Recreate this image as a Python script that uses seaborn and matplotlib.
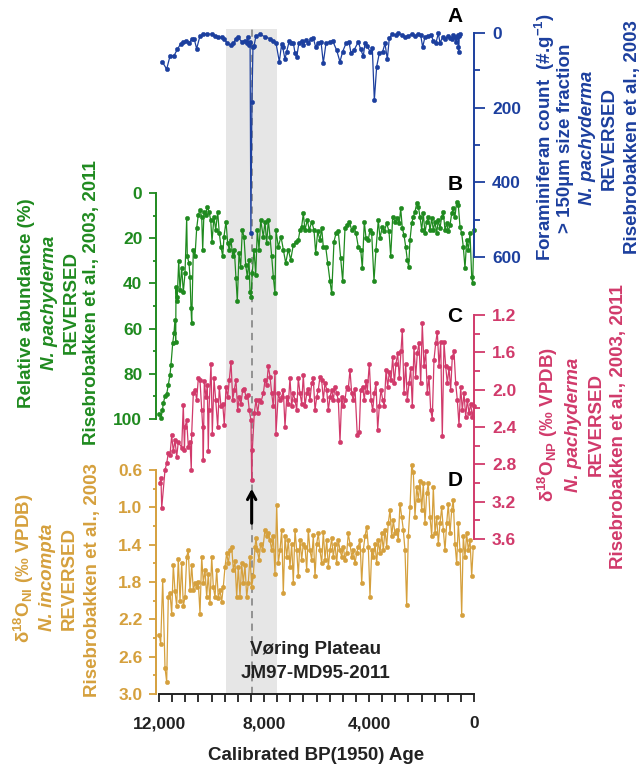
import matplotlib
matplotlib.use("Agg")
import matplotlib.pyplot as plt
from matplotlib.ticker import MultipleLocator, FixedLocator, StrMethodFormatter
import seaborn as sns

sns.set_style("white")
plt.rcParams['font.family'] = ['Liberation Sans', 'DejaVu Sans']
plt.rcParams['font.weight'] = 'bold'
plt.rcParams['mathtext.fontset'] = 'custom'
plt.rcParams['mathtext.rm'] = 'Liberation Sans'
plt.rcParams['mathtext.bf'] = 'Liberation Sans:bold'
plt.rcParams['mathtext.it'] = 'Liberation Sans:italic'

# ---------------- data ----------------
blue_age = [11875, 11708, 11582, 11430, 11303, 11176, 11075, 10973, 10846, 10757,
            10655, 10566, 10440, 10313, 10161, 9995, 9868, 9741, 9614, 9525,
            9398, 9271, 9170, 9068, 8979, 8852, 8725, 8661, 8623, 8572,
            8530, 8500, 8460, 8420, 8382, 8306, 8153, 7963, 7772, 7646,
            7544, 7417, 7328, 7290, 7201, 7137, 7036, 6972, 6884, 6820,
            6756, 6668, 6566, 6503, 6413, 6313, 6210, 6122, 6033, 5931,
            5829, 5741, 5639, 5486, 5385, 5233, 5106, 5004, 4877, 4763,
            4687, 4572, 4408, 4317, 4217, 4153, 4064, 3962, 3873, 3797,
            3708, 3606, 3480, 3391, 3302, 3226, 3112, 2985, 2884, 2756,
            2629, 2503, 2375, 2248, 2121, 2032, 1955, 1867, 1740, 1639,
            1550, 1448, 1359, 1295, 1194, 1105, 1003, 914, 851, 787,
            724, 686, 636, 610, 598, 583, 560, 533]
blue_val = [77, 97, 62, 61, 44, 29, 25, 21, 26, 17,
            17, 42, 8, 4, 3, 3, 7, 12, 12, 17,
            26, 33, 28, 15, 12, 23, 21, 28, 10, 32,
            23, 537, 184, 37, 35, 8, 4, 10, 15, 21,
            26, 77, 30, 37, 70, 50, 21, 28, 26, 53,
            65, 26, 22, 33, 19, 26, 17, 14, 37, 26,
            23, 80, 28, 23, 21, 46, 77, 50, 28, 24,
            53, 46, 24, 44, 62, 28, 35, 50, 41, 180,
            90, 54, 50, 28, 70, 14, 3, 6, 1, 5,
            10, 8, 3, 8, 3, 5, 38, 10, 8, 5,
            21, 26, 1, 26, 12, 17, 8, 14, 17, 5,
            10, 23, 12, 5, 37, 50, 8, 3]

green_age = [11981, 11924, 11867, 11836, 11771, 11707, 11646, 11581, 11543, 11478,
             11429, 11390, 11364, 11352, 11326, 11303, 11249, 11200, 11135, 11074,
             11009, 10945, 10922, 10857, 10819, 10781, 10754, 10693, 10629, 10564,
             10503, 10438, 10373, 10335, 10286, 10221, 10160, 10095, 10030, 9981,
             9905, 9840, 9764, 9703, 9638, 9573, 9524, 9448, 9383, 9322,
             9257, 9192, 9131, 9067, 9017, 8952, 8888, 8827, 8762, 8697,
             8636, 8571, 8533, 8495, 8446, 8381, 8316, 8255, 8190, 8126,
             8027, 7962, 7897, 7836, 7771, 7707, 7646, 7581, 7543, 7455,
             7352, 7265, 7173, 7074, 6983, 6884, 6781, 6693, 6629, 6564,
             6503, 6438, 6350, 6274, 6183, 6095, 6030, 5954, 5867, 5802,
             5741, 5650, 5573, 5486, 5421, 5333, 5257, 5169, 5078, 5002,
             4914, 4827, 4750, 4659, 4571, 4495, 4408, 4316, 4255, 4179,
             4114, 4027, 3962, 3897, 3810, 3733, 3646, 3581, 3493, 3417,
             3326, 3238, 3173, 3097, 3010, 2922, 2846, 2792, 2731, 2667,
             2602, 2541, 2488, 2438, 2373, 2312, 2248, 2183, 2122, 2057,
             1992, 1931, 1867, 1802, 1741, 1676, 1611, 1550, 1486, 1421,
             1360, 1295, 1230, 1170, 1105, 1040, 979, 914, 850, 789,
             724, 659, 598, 533, 469, 408, 343, 278, 217, 152,
             88, 50, 0]
green_val = [98, 99.5, 96, 93, 90, 89, 85, 80.5, 76, 66.5,
             62, 56, 66, 41.5, 48, 46, 30, 43, 33, 44,
             35.5, 11, 28, 31, 37, 51, 57.6, 25, 28, 15.6,
             9.7, 7.5, 10.5, 25, 8.3, 9.7, 6, 8.3, 12, 21.5,
             10.5, 16.4, 8.3, 17.8, 23.8, 28, 19.3, 12.7, 22.3, 25,
             20.8, 28, 25, 37.7, 48, 26.7, 32.6, 16.4, 19.3, 31.9,
             37, 29.6, 43.7, 45.9, 35.5, 25, 36.3, 16.4, 25, 12,
             19.3, 12.7, 22.3, 12, 19.3, 28, 37, 44.4, 16.4, 23.8,
             19.3, 25, 31, 25, 29.6, 23, 21.5, 20.8, 16.4, 14.9,
             9, 16.4, 12, 16.4, 12.7, 16.4, 26.7, 17, 20.8, 15.6,
             23.8, 23.8, 31, 39, 44.4, 21.5, 17.8, 17, 28.9, 39,
             15.6, 14.2, 12.7, 16.4, 14.9, 17.8, 23.8, 25, 33.3, 12.7,
             20, 20.8, 16.4, 17.8, 39, 25, 12, 20, 14.9, 17,
             13.4, 17, 28, 10.5, 12.7, 11.2, 13.4, 6.8, 15.6, 18.6,
             23.8, 29.6, 32.6, 20.8, 13.4, 10.5, 8.3, 4.6, 6, 10.5,
             16.4, 9, 17.8, 12.7, 10.5, 16.4, 11.2, 16.4, 12.7, 17.8,
             12, 15.6, 10.5, 8.3, 16.4, 13.4, 17, 14.2, 9, 6.8,
             10.5, 3.8, 5.3, 14.9, 17.8, 23.8, 33.3, 20.8, 25, 17.8,
             37, 40, 16.4]

pink_age = [11962, 11924, 11897, 11771, 11707, 11646, 11581, 11516, 11455, 11390,
            11326, 11265, 11135, 11074, 11030, 11009, 10945, 10884, 10819, 10770,
            10754, 10693, 10629, 10564, 10503, 10438, 10373, 10335, 10312, 10274,
            10210, 10160, 10122, 10095, 10019, 9969, 9905, 9840, 9764, 9703,
            9638, 9573, 9512, 9448, 9383, 9322, 9257, 9192, 9131, 9067,
            9002, 8941, 8876, 8811, 8750, 8686, 8621, 8560, 8495, 8470,
            8446, 8369, 8305, 8240, 8179, 8114, 8027, 7962, 7897, 7836,
            7771, 7707, 7646, 7581, 7543, 7455, 7390, 7326, 7265, 7200,
            7135, 7074, 7010, 6945, 6884, 6819, 6754, 6693, 6629, 6564,
            6503, 6438, 6373, 6312, 6248, 6183, 6122, 6057, 5992, 5931,
            5867, 5802, 5741, 5676, 5611, 5550, 5486, 5421, 5360, 5295,
            5230, 5169, 5105, 5040, 4979, 4914, 4850, 4789, 4724, 4659,
            4598, 4533, 4446, 4370, 4316, 4240, 4179, 4114, 4065, 3988,
            3924, 3859, 3798, 3733, 3669, 3608, 3543, 3478, 3417, 3352,
            3288, 3227, 3162, 3097, 3036, 2971, 2907, 2846, 2781, 2731,
            2667, 2602, 2541, 2476, 2411, 2350, 2286, 2221, 2160, 2095,
            2030, 1970, 1905, 1840, 1779, 1714, 1650, 1589, 1524, 1459,
            1398, 1333, 1269, 1208, 1143, 1078, 1017, 952, 888, 827,
            762, 697, 636, 571, 507, 446, 381, 316, 255, 190,
            126, 65, 0]
pink_val = [3.0, 2.95, 3.27, 2.86, 2.79, 2.68, 2.70, 2.49, 2.66, 2.54,
            2.72, 2.56, 2.62, 2.16, 2.65, 2.40, 2.33, 2.61, 2.56, 2.86,
            2.47, 2.04, 2.0, 2.11, 1.88, 1.90, 2.22, 2.40, 2.75, 1.91,
            2.08, 1.95, 2.66, 2.22, 1.72, 2.47, 1.88, 2.11, 2.40, 1.97,
            2.18, 2.15, 2.38, 1.97, 2.08, 1.90, 1.70, 2.11, 2.0, 1.90,
            2.22, 2.08, 2.15, 2.0, 1.99, 2.08, 2.06, 2.22, 2.33, 2.97,
            2.65, 2.25, 2.11, 2.25, 2.11, 2.13, 2.04, 1.90, 1.95, 1.75,
            1.86, 2.04, 2.18, 1.81, 2.47, 2.04, 2.11, 2.08, 2.0, 2.40,
            2.08, 2.15, 1.88, 2.18, 2.04, 2.11, 2.22, 1.88, 2.04, 2.15,
            1.84, 2.18, 2.04, 1.99, 2.11, 1.93, 1.88, 2.22, 2.08, 2.0,
            1.86, 1.90, 2.11, 1.93, 2.0, 2.22, 2.08, 2.0, 2.11, 1.97,
            2.04, 2.11, 2.56, 2.08, 2.18, 2.11, 1.97, 1.99, 1.79, 2.04,
            2.11, 1.99, 2.49, 2.45, 2.0, 1.97, 2.11, 1.91, 2.02, 1.72,
            2.11, 2.22, 2.04, 1.93, 2.43, 2.18, 2.0, 2.11, 2.18, 1.79,
            1.97, 1.81, 1.90, 1.65, 1.93, 1.72, 1.61, 1.88, 1.59, 1.36,
            2.04, 1.72, 2.11, 1.93, 1.77, 2.18, 1.54, 1.86, 1.61, 1.50,
            1.93, 1.29, 1.75, 1.59, 2.04, 1.86, 2.22, 2.31, 1.68, 1.50,
            1.38, 1.75, 1.49, 2.50, 1.49, 1.75, 1.93, 1.77, 2.0, 1.65,
            1.59, 1.93, 2.11, 2.38, 1.97, 2.22, 2.04, 2.29, 2.11, 2.25,
            2.15, 2.29, 2.18]

gold_age = [11989, 11935, 11859, 11771, 11707, 11646, 11581, 11516, 11455, 11390,
            11326, 11265, 11200, 11135, 11074, 11009, 10945, 10884, 10819, 10754,
            10693, 10629, 10564, 10503, 10438, 10373, 10312, 10248, 10183, 10122,
            10057, 9992, 9931, 9867, 9802, 9741, 9676, 9611, 9550, 9486,
            9421, 9360, 9295, 9230, 9169, 9105, 9040, 8979, 8914, 8850,
            8789, 8724, 8659, 8598, 8533, 8469, 8408, 8343, 8305, 8255,
            8190, 8126, 8050, 7962, 7897, 7836, 7771, 7707, 7646, 7581,
            7516, 7455, 7390, 7326, 7265, 7200, 7135, 7074, 7010, 6945,
            6884, 6819, 6754, 6693, 6629, 6564, 6503, 6438, 6373, 6312,
            6248, 6183, 6122, 6057, 5992, 5931, 5867, 5802, 5741, 5676,
            5611, 5550, 5486, 5421, 5360, 5295, 5230, 5169, 5105, 5040,
            4979, 4914, 4850, 4789, 4724, 4659, 4598, 4533, 4469, 4408,
            4343, 4278, 4217, 4152, 4088, 4027, 3962, 3897, 3836, 3771,
            3707, 3646, 3581, 3516, 3455, 3390, 3326, 3265, 3200, 3135,
            3074, 3010, 2945, 2884, 2819, 2754, 2693, 2629, 2564, 2503,
            2438, 2373, 2312, 2248, 2183, 2122, 2057, 1992, 1931, 1867,
            1802, 1741, 1676, 1611, 1550, 1486, 1421, 1360, 1295, 1230,
            1170, 1105, 1040, 979, 914, 850, 789, 724, 659, 598,
            533, 469, 408, 343, 278, 217, 152, 88, 27]
gold_val = [2.37, 2.46, 1.78, 2.72, 2.87, 1.96, 1.92, 2.14, 1.62, 1.90,
            2.06, 1.55, 2.0, 1.60, 2.06, 1.96, 1.53, 1.46, 1.89, 1.62,
            1.89, 1.81, 1.85, 1.80, 2.14, 1.53, 1.81, 1.67, 1.96, 1.71,
            2.03, 1.53, 1.85, 1.96, 1.67, 1.97, 1.89, 2.01, 1.85, 1.64,
            1.49, 1.60, 1.46, 1.42, 1.67, 1.58, 1.96, 1.64, 1.96, 1.60,
            1.81, 1.62, 1.96, 1.81, 1.53, 1.85, 1.74, 1.42, 1.33, 1.46,
            1.56, 1.39, 1.46, 1.24, 1.31, 1.28, 1.35, 1.46, 1.31, 1.71,
            0.98, 1.60, 1.46, 1.24, 1.92, 1.31, 1.53, 1.35, 1.64, 1.39,
            1.81, 1.24, 1.46, 1.74, 1.35, 1.56, 1.39, 1.42, 1.67, 1.24,
            1.46, 1.56, 1.30, 1.74, 1.39, 1.28, 1.46, 1.60, 1.26, 1.56,
            1.35, 1.64, 1.46, 1.33, 1.53, 1.39, 1.60, 1.35, 1.46, 1.53,
            1.42, 1.56, 1.49, 1.28, 1.39, 1.53, 1.46, 1.60, 1.49, 1.42,
            1.35, 1.81, 1.46, 1.31, 1.21, 1.42, 1.96, 1.46, 1.53, 1.39,
            1.60, 1.35, 1.49, 1.28, 1.46, 1.24, 1.42, 1.17, 1.03, 1.31,
            1.14, 1.28, 1.24, 1.35, 0.96, 1.10, 1.24, 1.46, 2.05, 1.31,
            1.0, 0.55, 0.62, 1.10, 0.78, 0.92, 0.72, 1.03, 0.74, 1.17,
            0.85, 0.74, 1.10, 1.31, 0.78, 1.28, 1.10, 1.39, 1.17, 1.0,
            1.24, 1.46, 1.17, 0.96, 1.28, 1.03, 0.92, 1.39, 1.60, 1.17,
            1.46, 2.15, 1.31, 1.53, 1.28, 1.46, 1.35, 1.74, 1.42]

shade_span = (9450, 7500)
event_age = 8470
x_ticks = [12000, 8000, 4000, 0]
a_ticks = [0, 200, 400, 600]
b_ticks = [0, 20, 40, 60, 80, 100]
c_ticks = [1.2, 1.6, 2.0, 2.4, 2.8, 3.2, 3.6]
d_ticks = [0.6, 1.0, 1.4, 1.8, 2.2, 2.6, 3.0]

BLUE = '#1c3f9e'
GREEN = '#1f8a1f'
PINK = '#d13a6b'
GOLD = '#d5a03d'
DARK = '#222222'
LABEL_FS = 13.5

# ---------------- layout ----------------
W, H = 640, 765
fig = plt.figure(figsize=(W / 100, H / 100), dpi=100)


def rect(x0, y0, x1, y1):
    return [x0 / W, 1 - y1 / H, (x1 - x0) / W, (y1 - y0) / H]


def ftext(x, y, s, **kw):
    kw.setdefault('ha', 'center')
    kw.setdefault('va', 'center')
    kw.setdefault('fontsize', LABEL_FS)
    fig.text(x / W, 1 - y / H, s, **kw)


ax_bg = fig.add_axes(rect(159, 29, 474, 694))
ax_d = fig.add_axes(rect(159, 470, 474, 694))
ax_c = fig.add_axes(rect(159, 315, 474, 539))
ax_b = fig.add_axes(rect(159, 193, 474, 419))
ax_a = fig.add_axes(rect(159, 33, 474, 257))

for ax in (ax_bg, ax_d, ax_c, ax_b, ax_a):
    ax.set_xlim(12000, 0)
    ax.patch.set_alpha(0)
    for s in ax.spines.values():
        s.set_visible(False)

# background: shade, event line, x axis
ax_bg.set_ylim(694, 29)
ax_bg.axvspan(*shade_span, color='#e6e6e6', lw=0, zorder=0)
ax_bg.axvline(event_age, color='#8c8c8c', lw=1.3, ls=(0, (4, 3)), zorder=1)
ax_bg.spines['bottom'].set_visible(True)
ax_bg.spines['bottom'].set_linewidth(1.4)
ax_bg.spines['bottom'].set_color(DARK)
ax_bg.set_yticks([])
ax_bg.xaxis.set_major_locator(FixedLocator(x_ticks))
ax_bg.xaxis.set_minor_locator(MultipleLocator(500))
ax_bg.xaxis.set_major_formatter(StrMethodFormatter('{x:,.0f}'))
ax_bg.tick_params(axis='x', which='both', direction='out', length=6, width=1.3,
                  color=DARK, labelcolor=DARK, labelsize=12.5, pad=10, bottom=True)
ax_bg.set_xlabel('Calibrated BP(1950) Age', fontsize=LABEL_FS, color=DARK,
                 fontweight='bold', labelpad=11)
ax_bg.annotate('', xy=(event_age, 486), xytext=(event_age, 526),
               arrowprops=dict(arrowstyle='->,head_length=0.55,head_width=0.3',
                               lw=2.2, color='black'))
ax_bg.text(6040, 650, 'Vøring Plateau', ha='center', va='center',
           fontsize=13.5, color=DARK, fontweight='bold')
ax_bg.text(6040, 673, 'JM97-MD95-2011', ha='center', va='center',
           fontsize=13.5, color=DARK, fontweight='bold')

series = [
    (ax_a, blue_age, blue_val, BLUE, (600, 0), a_ticks, 100, 'right', '{x:.0f}'),
    (ax_b, green_age, green_val, GREEN, (100, 0), b_ticks, 10, 'left', '{x:.0f}'),
    (ax_c, pink_age, pink_val, PINK, (3.6, 1.2), c_ticks, 0.2, 'right', '{x:.1f}'),
    (ax_d, gold_age, gold_val, GOLD, (3.0, 0.6), d_ticks, 0.2, 'left', '{x:.1f}'),
]

for ax, xs, ys, col, ylim, ticks, minor, side, fmt in series:
    sns.lineplot(x=xs, y=ys, ax=ax, estimator=None, sort=False, color=col,
                 linewidth=0.9, marker='o', markersize=3.2,
                 markeredgecolor=col, markeredgewidth=0.3)
    for ln in ax.lines:
        ln.set_clip_on(False)
    ax.set_xlim(12000, 0)
    ax.set_ylim(*ylim)
    ax.set_xticks([])
    ax.set_xlabel('')
    ax.set_ylabel('')
    ax.spines[side].set_visible(True)
    ax.spines[side].set_color(col)
    ax.spines[side].set_linewidth(1.4)
    if side == 'right':
        ax.yaxis.tick_right()
        maj, mn = 8, 4.5
    else:
        ax.yaxis.tick_left()
        ax.spines['left'].set_position(('outward', 2))
        maj, mn = 5, 2.5
    ax.yaxis.set_major_locator(FixedLocator(ticks))
    ax.yaxis.set_minor_locator(MultipleLocator(minor))
    ax.yaxis.set_major_formatter(StrMethodFormatter(fmt))
    ax.tick_params(axis='y', which='major', length=maj, width=1.3, color=col,
                   labelcolor=col, labelsize=12.5, pad=5)
    ax.tick_params(axis='y', which='minor', length=mn, width=1.3, color=col)
    ax.set_ylim(*ylim)

# panel letters
for lab, yy in (('A', 16), ('B', 184), ('C', 316), ('D', 480)):
    ftext(455, yy, lab, fontsize=15, fontweight='bold', color='black')

# blue axis label (right, top)
ftext(545, 137, r'Foraminiferan count  (#.g$^{\mathbf{-1}}$)', rotation=90, color=BLUE)
ftext(566, 138, '> 150µm size fraction', rotation=90, color=BLUE)
ftext(588, 138, 'N. pachyderma', rotation=90, color=BLUE, style='italic')
ftext(609, 138, 'REVERSED', rotation=90, color=BLUE)
ftext(632, 137, 'Risebrobakken et al., 2003', rotation=90, color=BLUE)

# pink axis label (right, middle)
ftext(548, 425, r'$\mathrm{\delta}^{\mathbf{18}}\mathbf{O}_{\mathbf{NP}}$ (‰ VPDB)',
      rotation=90, color=PINK)
ftext(573, 425, 'N. pachyderma', rotation=90, color=PINK, style='italic')
ftext(596, 425, 'REVERSED', rotation=90, color=PINK)
ftext(618, 427, 'Risebrobakken et al., 2003, 2011', rotation=90, color=PINK)

# green axis label (left, upper)
ftext(27, 303, 'Relative abundance (%)', rotation=90, color=GREEN)
ftext(49, 303, 'N. pachyderma', rotation=90, color=GREEN, style='italic')
ftext(71, 303, 'REVERSED', rotation=90, color=GREEN)
ftext(92, 303, 'Risebrobakken et al., 2003, 2011', rotation=90, color=GREEN)

# gold axis label (left, lower)
ftext(24, 568, r'$\mathrm{\delta}^{\mathbf{18}}\mathbf{O}_{\mathbf{NI}}$ (‰ VPDB)',
      rotation=90, color=GOLD)
ftext(48, 577, 'N. incompta', rotation=90, color=GOLD, style='italic')
ftext(69, 579, 'REVERSED', rotation=90, color=GOLD)
ftext(92, 580, 'Risebrobakken et al., 2003', rotation=90, color=GOLD)

fig.savefig('out.png', dpi=100)
